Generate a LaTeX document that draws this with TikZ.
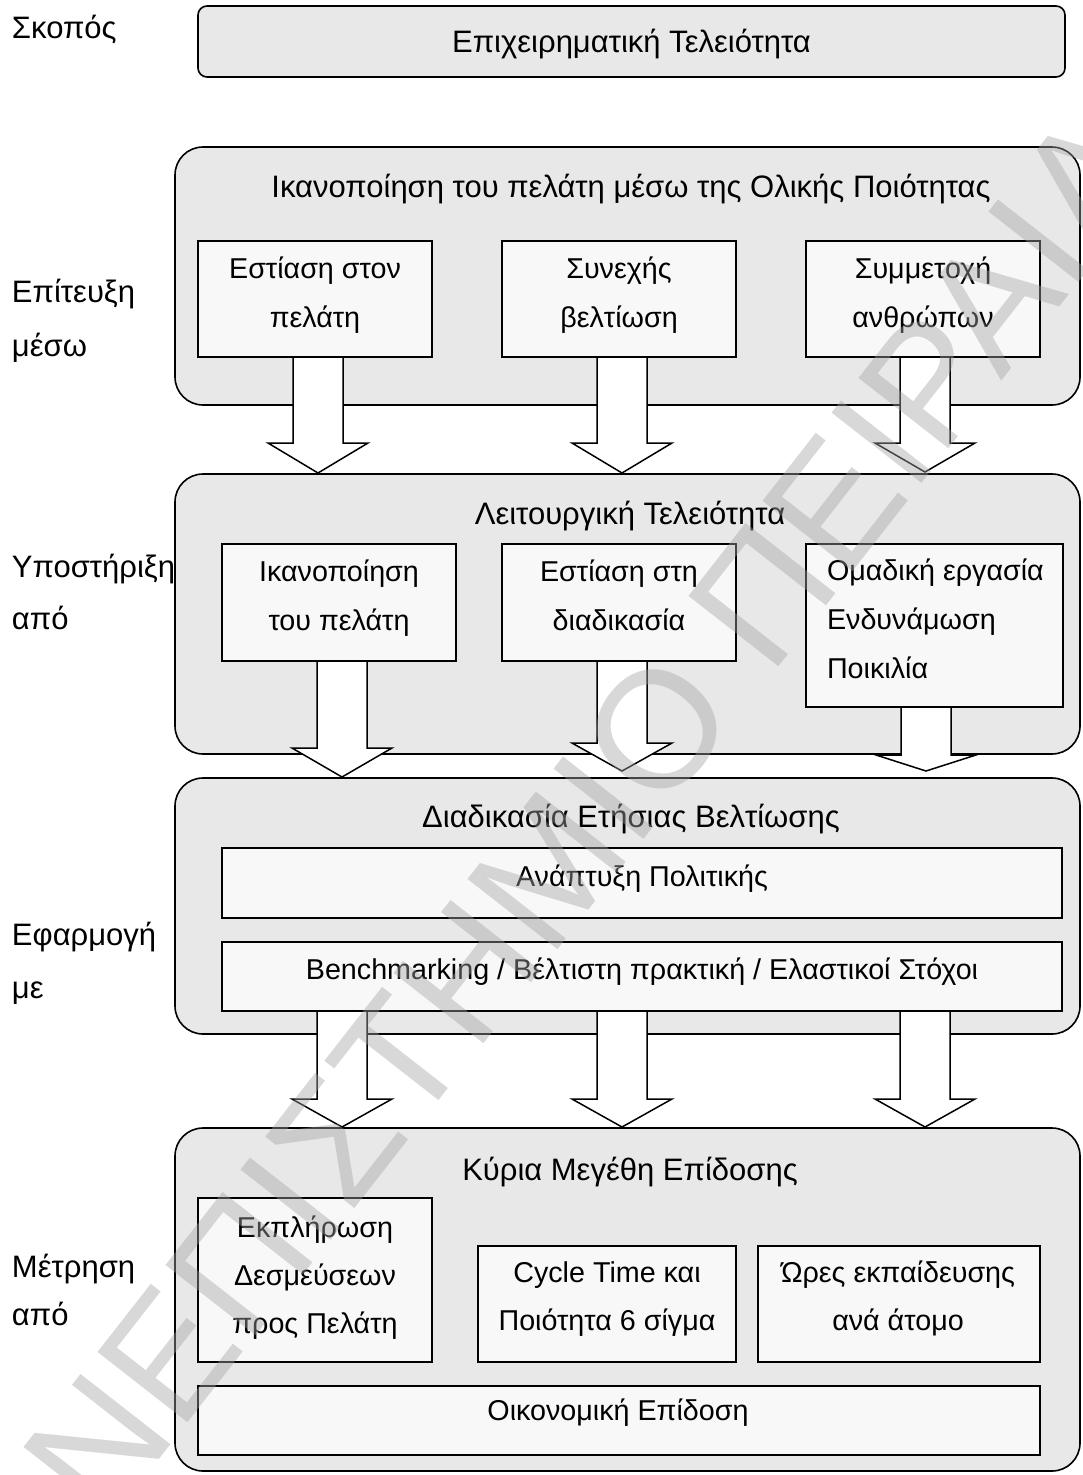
\documentclass[tikz,border=0pt]{standalone}
\usepackage{fontspec}
\setmainfont{Liberation Sans}
\usetikzlibrary{calc}
\definecolor{panelgray}{HTML}{E8E8E8}
\definecolor{cellgray}{HTML}{F8F8F8}
\definecolor{markgray}{HTML}{A3A3A3}

% rectangle node given by its two corners: name, x1, y1, x2, y2, style
\newcommand\cornerbox[6]{%
  \node[#6, minimum width={#4-#2}, minimum height={#5-#3}] (#1)
    at ({(#2+#4)/2},{(#3+#5)/2}) {};}

% white block arrow from the bottom of a node down to a tip coordinate
\newcommand\blockarrow[3]{%
  \draw[arrowbody] let \p1=(#2), \p2=(#1.south) in
    (\x1-25pt,\y2) -- (\x1-25pt,\y1+#3pt) -- (\x1-50pt,\y1+#3pt) -- (\x1,\y1)
    -- (\x1+50pt,\y1+#3pt) -- (\x1+25pt,\y1+#3pt) -- (\x1+25pt,\y2) -- cycle;}

\begin{document}
\begin{tikzpicture}[x=1pt,y=-1pt,
  every node/.style={font=\fontsize{31}{49}\selectfont, inner sep=0pt, outer sep=0pt},
  panel/.style={draw=black, line width=1.6pt, fill=panelgray, rounded corners=28pt},
  goalbox/.style={draw=black, line width=1.6pt, fill=panelgray, rounded corners=9pt},
  cell/.style={draw=black, line width=1.5pt, fill=cellgray},
  txt/.style={anchor=base, align=center},
  celltxt/.style={anchor=base, align=center, font=\fontsize{28.7}{49}\selectfont},
  cellleft/.style={anchor=base west, align=left, font=\fontsize{28.7}{49}\selectfont},
  side/.style={anchor=base west, align=left},
  arrowbody/.style={draw=black, line width=1.5pt, fill=white, line join=miter},
  watermark/.style={font=\fontsize{166}{166}\selectfont, text=markgray,
    text opacity=0.42, rotate=52},
]
\useasboundingbox (0,0) rectangle (1082,1475);

% goal (multi-line texts are placed by the baseline of their last line)
\cornerbox{goal}{198}{6}{1065}{77}{goalbox}
\node[txt] (goalt) at (631.5,52) {Επιχειρηματική Τελειότητα};
\node[side] (lab0) at (12,38) {Σκοπός};

% four stacked panels
\cornerbox{p1}{175}{147}{1080}{405}{panel}
\cornerbox{p2}{175}{474}{1080}{754}{panel}
\cornerbox{p3}{175}{778}{1080}{1034}{panel}
\cornerbox{p4}{175}{1128}{1080}{1471}{panel}

% panel 1
\node[txt] (p1t) at (631,197) {Ικανοποίηση του πελάτη μέσω της Ολικής Ποιότητας};
\cornerbox{a1}{198}{241}{432}{357}{cell}
\cornerbox{b1}{502}{241}{736}{357}{cell}
\cornerbox{c1}{806}{241}{1040}{357}{cell}
\node[celltxt] (a1t) at (315,327) {Εστίαση στον\\πελάτη};
\node[celltxt] (b1t) at (619,327) {Συνεχής\\βελτίωση};
\node[celltxt] (c1t) at (923,327) {Συμμετοχή\\ανθρώπων};
\node[side] (lab1) at (12,356) {Επίτευξη\\[5pt]μέσω};

% panel 2
\node[txt] (p2t) at (630,524) {Λειτουργική Τελειότητα};
\cornerbox{a2}{222}{544}{456}{661}{cell}
\cornerbox{b2}{502}{544}{736}{661}{cell}
\cornerbox{c2}{806}{544}{1063}{707}{cell}
\node[celltxt] (a2t) at (339,630) {Ικανοποίηση\\του πελάτη};
\node[celltxt] (b2t) at (619,630) {Εστίαση στη\\διαδικασία};
\node[cellleft] (c2t) at (827,678) {Ομαδική εργασία\\Ενδυνάμωση\\Ποικιλία};
\node[side] (lab2) at (12,629) {Υποστήριξη\\[3pt]από};

% panel 3
\node[txt] (p3t) at (631,827) {Διαδικασία Ετήσιας Βελτίωσης};
\cornerbox{d3}{222}{848}{1062}{918}{cell}
\cornerbox{e3}{222}{942}{1062}{1011}{cell}
\node[celltxt] (d3t) at (642,886) {Ανάπτυξη Πολιτικής};
\node[celltxt] (e3t) at (642,979) {Benchmarking / Βέλτιστη πρακτική / Ελαστικοί Στόχοι};
\node[side] (lab3) at (12,998) {Εφαρμογή\\[4pt]με};

% panel 4
\node[txt] (p4t) at (630,1180) {Κύρια Μεγέθη Επίδοσης};
\cornerbox{a4}{198}{1198}{432}{1362}{cell}
\cornerbox{b4}{478}{1246}{736}{1362}{cell}
\cornerbox{c4}{758}{1246}{1040}{1362}{cell}
\cornerbox{d4}{198}{1386}{1040}{1455}{cell}
\node[celltxt] (a4t) at (315,1333) {Εκπλήρωση\\[-1pt]Δεσμεύσεων\\[-1pt]προς Πελάτη};
\node[celltxt] (b4t) at (607,1330) {Cycle Time και\\[-1pt]Ποιότητα 6 σίγμα};
\node[celltxt] (c4t) at (898,1330) {Ώρες εκπαίδευσης\\[-1pt]ανά άτομο};
\node[celltxt] (d4t) at (618,1420) {Οικονομική Επίδοση};
\node[side] (lab4) at (12,1325) {Μέτρηση\\[-1pt]από};

% arrow tips
\coordinate (t1a) at (318,473);
\coordinate (t1b) at (622,473);
\coordinate (t1c) at (925,472);
\coordinate (t2a) at (342,777);
\coordinate (t2b) at (622,771);
\coordinate (t2c) at (926,771);
\coordinate (t3a) at (342,1127);
\coordinate (t3b) at (622,1127);
\coordinate (t3c) at (925,1127);

% block arrows between the levels
\blockarrow{a1}{t1a}{30}
\blockarrow{b1}{t1b}{30}
\blockarrow{c1}{t1c}{29}
\blockarrow{a2}{t2a}{29}
\blockarrow{b2}{t2b}{28}
\blockarrow{c2}{t2c}{16}
\blockarrow{e3}{t3a}{28}
\blockarrow{e3}{t3b}{28}
\blockarrow{e3}{t3c}{28}

% diagonal mark across the sheet
\node[watermark] (wm) at (520,905) {ΠΑΝΕΠΙΣΤΗΜΙΟ ΠΕΙΡΑΙΑ};
\end{tikzpicture}
\end{document}
